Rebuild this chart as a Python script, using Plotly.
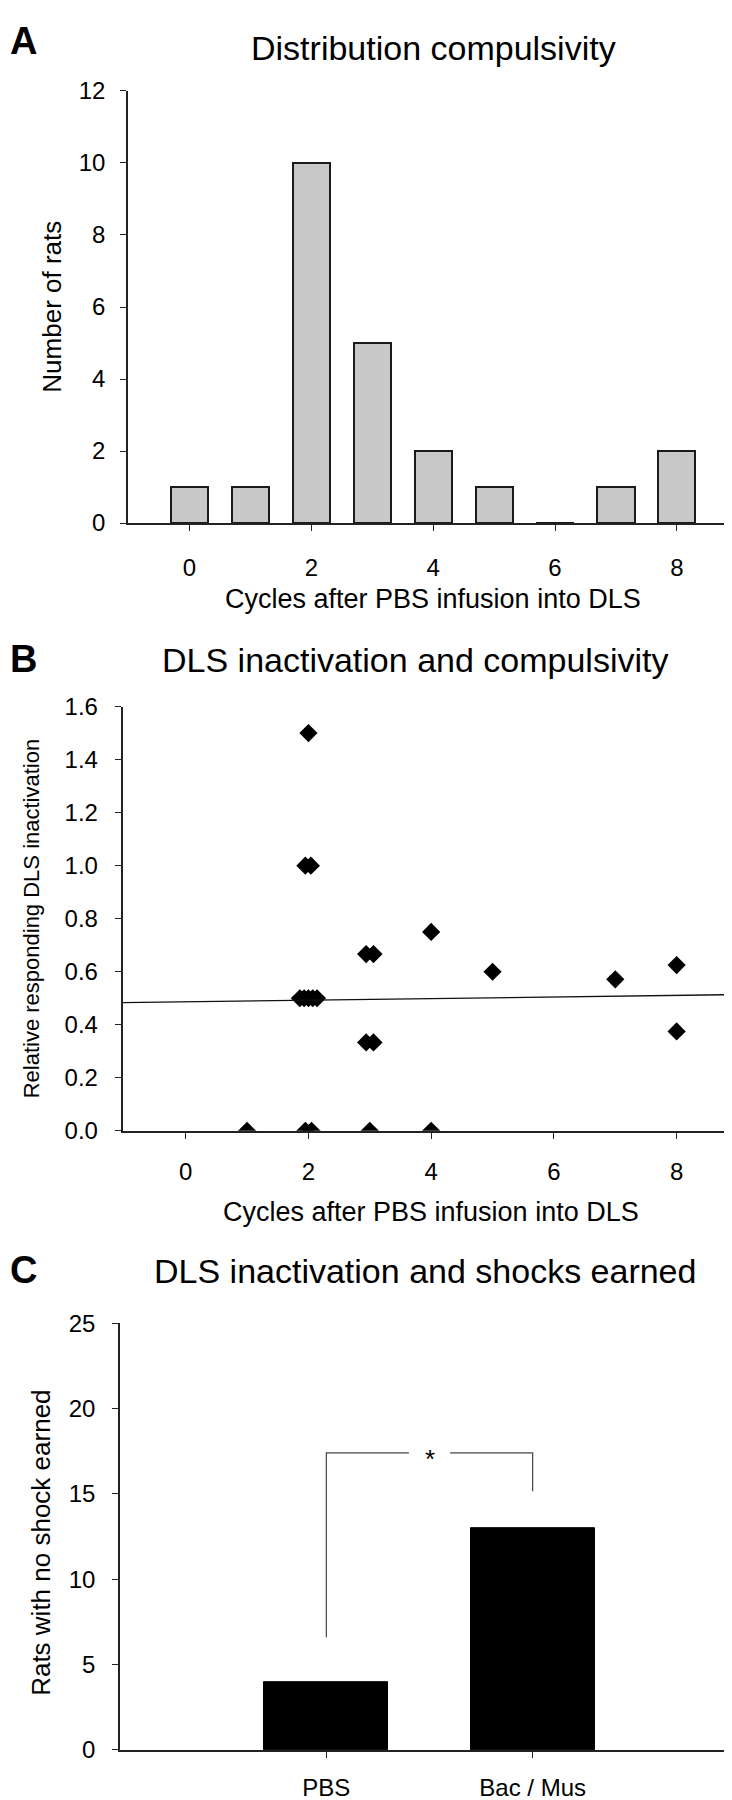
import numpy as np
import plotly.graph_objects as go

# ---------------- data ----------------
# Panel A: distribution of compulsivity
cycles_a = [0, 1, 2, 3, 4, 5, 6, 7, 8]
rats_a = [1, 1, 10, 5, 2, 1, 0, 1, 2]
xticks_a = [0, 2, 4, 6, 8]

# Panel B: DLS inactivation vs compulsivity
cycles_b = [1, 2, 2, 3, 4,
            2, 2, 2, 2, 2,
            2, 2, 2,
            3, 3, 3, 3,
            4, 5, 7, 8, 8]
drawn_x_b = [1.0, 1.95, 2.05, 3.0, 4.0,
             1.86, 1.93, 2.0, 2.07, 2.14,
             1.95, 2.04, 2.0,
             2.94, 3.06, 2.94, 3.06,
             4.0, 5.0, 7.0, 8.0, 8.0]
resp_b = [0, 0, 0, 0, 0,
          0.5, 0.5, 0.5, 0.5, 0.5,
          1.0, 1.0, 1.5,
          1/3, 1/3, 2/3, 2/3,
          0.75, 0.6, 4/7, 0.625, 0.375]
yticks_b = [0.0, 0.2, 0.4, 0.6, 0.8, 1.0, 1.2, 1.4, 1.6]

# Panel C: shocks earned
groups_c = ["PBS", "Bac / Mus"]
rats_c = [4, 13]
yticks_c = [0, 5, 10, 15, 20, 25]
bracket_y = 17.4
bracket_leg_bottoms = [6.6, 15.15]

# ---------------- layout helpers ----------------
W, H = 732, 1800
FONT = "Liberation Sans, Arial, sans-serif"


def fx(px):
    return px / W


def fy(py):
    return 1 - py / H


fig = go.Figure()

# Panel A bars
fig.add_trace(go.Bar(
    x=cycles_a, y=rats_a, width=0.61,
    marker=dict(color="#c8c8c8", line=dict(color="#1a1a1a", width=2)),
    xaxis="x", yaxis="y", showlegend=False))

# Panel B scatter + regression
fig.add_trace(go.Scatter(
    x=drawn_x_b, y=resp_b, mode="markers",
    marker=dict(symbol="diamond", size=14, color="black"),
    xaxis="x2", yaxis="y2", showlegend=False))
slope, intercept = np.polyfit(cycles_b, resp_b, 1)
x_fit = np.array([-1.03, 9.0])
fig.add_trace(go.Scatter(
    x=x_fit, y=slope * x_fit + intercept, mode="lines",
    line=dict(color="#111111", width=1.3),
    xaxis="x2", yaxis="y2", showlegend=False))

# Panel C bars
pos_c = np.arange(1, len(groups_c) + 1)
fig.add_trace(go.Bar(
    x=pos_c, y=rats_c, width=0.6,
    marker=dict(color="black", line=dict(color="black", width=1)),
    xaxis="x3", yaxis="y3", showlegend=False))

# significance bracket
mid = (pos_c[0] + pos_c[1]) / 2
gap = 0.1
fig.add_trace(go.Scatter(
    x=[pos_c[0], pos_c[0], mid - gap], y=[bracket_leg_bottoms[0], bracket_y, bracket_y],
    mode="lines", line=dict(color="#444444", width=1.2),
    xaxis="x3", yaxis="y3", showlegend=False))
fig.add_trace(go.Scatter(
    x=[mid + gap, pos_c[1], pos_c[1]], y=[bracket_y, bracket_y, bracket_leg_bottoms[1]],
    mode="lines", line=dict(color="#444444", width=1.2),
    xaxis="x3", yaxis="y3", showlegend=False))

axis_common = dict(
    showline=True, linecolor="#222222", linewidth=1.5,
    ticks="outside", ticklen=6, tickwidth=1.3, tickcolor="#222222",
    showgrid=False, zeroline=False,
    tickfont=dict(family=FONT, size=24, color="black"),
)

fig.update_layout(
    width=W, height=H,
    margin=dict(l=0, r=0, t=0, b=0),
    paper_bgcolor="white", plot_bgcolor="white",
    font=dict(family=FONT, color="black"),
    bargap=0,
    xaxis=dict(domain=[fx(120), fx(731)], range=[-1.01, 9.02], tickvals=xticks_a,
               anchor="y", ticklabelstandoff=16, **axis_common),
    yaxis=dict(domain=[fy(508.7), fy(70)], range=[0, 12], dtick=2,
               anchor="x", ticklabelstandoff=10, **axis_common),
    xaxis2=dict(domain=[fx(114.5), fx(730)], range=[-1.03, 9.0], tickvals=xticks_a,
                anchor="y2", ticklabelstandoff=13, **axis_common),
    yaxis2=dict(domain=[fy(1125.7), fy(695)], range=[0, 1.6], tickvals=yticks_b,
                tickformat=".1f", anchor="x2", ticklabelstandoff=12, **axis_common),
    xaxis3=dict(domain=[fx(112), fx(731)], range=[0, 3], tickvals=list(pos_c),
                ticktext=groups_c, anchor="y3", ticklabelstandoff=9, **axis_common),
    yaxis3=dict(domain=[fy(1754.3), fy(1321)], range=[0, 25], tickvals=yticks_c,
                anchor="x3", ticklabelstandoff=12, **axis_common),
)


def ann(text, x, y, size, angle=0, bold=False, xanchor="center"):
    fig.add_annotation(
        text=f"<b>{text}</b>" if bold else text,
        x=x, y=y, xref="paper", yref="paper",
        xanchor=xanchor, yanchor="middle", showarrow=False,
        textangle=angle, font=dict(family=FONT, size=size, color="black"))


# Panel A texts
ann("A", fx(0), fy(19), 38, bold=True, xanchor="left")
ann("Distribution compulsivity", fx(425), fy(26), 34)
ann("Cycles after PBS infusion into DLS", fx(425), fy(586), 27)
ann("Number of rats", fx(44), fy(289), 26, angle=-90)

# Panel B texts
ann("B", fx(0), fy(647), 38, bold=True, xanchor="left")
ann("DLS inactivation and compulsivity", fx(407), fy(648), 34)
ann("Cycles after PBS infusion into DLS", fx(423), fy(1208), 27)
ann("Relative responding DLS inactivation", fx(23), fy(910), 22, angle=-90)

# Panel C texts
ann("C", fx(0), fy(1267), 38, bold=True, xanchor="left")
ann("DLS inactivation and shocks earned", fx(417), fy(1268), 34)
ann("Rats with no shock earned", fx(33), fy(1544), 26, angle=-90)

# significance star
fig.add_annotation(text="*", x=mid, y=bracket_y, xref="x3", yref="y3",
                   showarrow=False, yanchor="middle", yshift=-6,
                   font=dict(family=FONT, size=26, color="black"))

fig.write_html("out.html")
